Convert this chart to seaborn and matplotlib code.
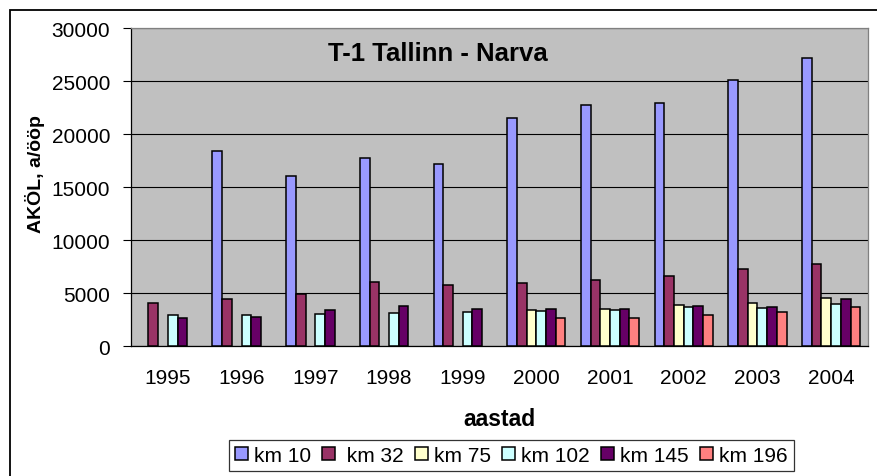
import numpy as np
import pandas as pd
import matplotlib
matplotlib.use("Agg")
import matplotlib.pyplot as plt
import seaborn as sns
from matplotlib.patches import Rectangle

# data (annual average daily traffic)
years = ["1995", "1996", "1997", "1998", "1999", "2000", "2001", "2002", "2003", "2004"]
stations = ["km 10", " km 32", "km 75", "km 102", "km 145", "km 196"]
km10 = [np.nan, 18400, 16000, 17700, 17200, 21500, 22700, 22900, 25100, 27200]
km32 = [4100, 4400, 4900, 6000, 5800, 5950, 6250, 6650, 7250, 7700]
km75 = [np.nan, np.nan, np.nan, np.nan, np.nan, 3400, 3500, 3850, 4100, 4500]
km102 = [2950, 2950, 3000, 3100, 3250, 3300, 3400, 3650, 3600, 3950]
km145 = [2600, 2700, 3400, 3750, 3500, 3500, 3500, 3800, 3700, 4400]
km196 = [np.nan, np.nan, np.nan, np.nan, np.nan, 2600, 2650, 2950, 3200, 3650]
colors = ["#9999FF", "#993366", "#FFFFCC", "#CCFFFF", "#660066", "#FF8080"]

series = [km10, km32, km75, km102, km145, km196]
rows = []
for st, vals in zip(stations, series):
    for yr, v in zip(years, vals):
        rows.append({"aastad": yr, "jaam": st, "value": v})
df = pd.DataFrame(rows)

sns.set_style("white")
plt.rcParams["font.family"] = ["Liberation Sans", "DejaVu Sans"]
plt.rcParams.update({"text.color": "black", "axes.labelcolor": "black",
                     "xtick.color": "black", "ytick.color": "black"})

fig, ax = plt.subplots(figsize=(8.77, 4.77), dpi=100)
fig.subplots_adjust(left=0.1494, right=0.9897, top=0.9392, bottom=0.2725)

sns.barplot(data=df, x="aastad", y="value", hue="jaam", hue_order=stations,
            order=years, palette=colors, edgecolor="black", linewidth=1.1,
            width=0.79, gap=0, saturation=1, ax=ax, zorder=3)

ax.set_facecolor("#C0C0C0")
ax.set_ylim(0, 30000)
ax.set_xlim(-0.5, 9.5)
ax.set_yticks(np.arange(0, 30001, 5000))
ax.yaxis.grid(True, color="black", linewidth=0.8, zorder=0)
ax.set_axisbelow(True)

# category ticks sit between the groups
ax.set_xticks(np.arange(-0.5, 10, 1), minor=True)
ax.tick_params(axis="x", which="major", length=0, pad=16, labelsize=15)
ax.tick_params(axis="x", which="minor", length=4.5, width=0.8, direction="out")
ax.tick_params(axis="y", length=6, width=0.8, direction="out", pad=9, labelsize=15)
ax.tick_params(bottom=True, left=True)

for side in ["left", "bottom"]:
    ax.spines[side].set_color("black")
    ax.spines[side].set_linewidth(0.9)
for side in ["top", "right"]:
    ax.spines[side].set_color("#808080")
    ax.spines[side].set_linewidth(0.9)

ax.set_xlabel("aastad", fontsize=16.5, fontweight="bold")
ax.xaxis.set_label_coords(0.5, -0.192)
ax.set_ylabel("AKÖL, a/ööp", fontsize=14, fontweight="bold")
ax.yaxis.set_label_coords(-0.1167, 0.544)

ax.text(0.416, 0.92, "T-1 Tallinn - Narva", transform=ax.transAxes,
        ha="center", va="center", fontsize=18.5, fontweight="bold")

handles, labels = ax.get_legend_handles_labels()
ax.legend_.remove()
leg = fig.legend(handles, labels, loc="center", bbox_to_anchor=(0.583, 0.043),
                 ncol=6, frameon=True, fancybox=False, fontsize=15,
                 handlelength=0.6, handleheight=0.6, handletextpad=0.3,
                 columnspacing=0.55, borderpad=0.3, borderaxespad=0)
leg.get_frame().set_edgecolor("black")
leg.get_frame().set_linewidth(0.9)
for h in leg.legend_handles:
    h.set_edgecolor("black")
    h.set_linewidth(1.1)

# outer chart frame (cut off at the right and bottom in the original)
fig.patches.append(Rectangle((10 / 877, -0.2), 1.2, 1.2 - 11 / 477,
                             transform=fig.transFigure, fill=False,
                             edgecolor="black", linewidth=1.3, clip_on=False))

fig.savefig("out.png", dpi=100)
